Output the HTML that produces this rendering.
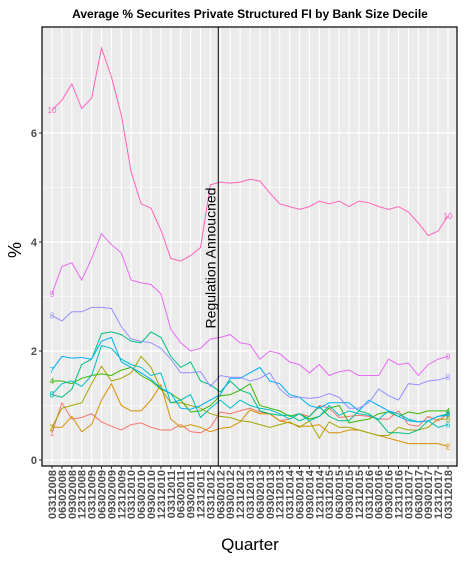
<!DOCTYPE html>
<html><head><meta charset="utf-8"><style>
body{margin:0;background:#fff}
svg{font-family:"Liberation Sans",sans-serif}
</style></head><body>
<svg id="c" width="465" height="558" xmlns="http://www.w3.org/2000/svg"></svg>
<script>
const quarters=["03312008","06302008","09302008","12312008","03312009","06302009","09302009","12312009","03312010","06302010","09302010","12312010","03312011","06302011","09302011","12312011","03312012","06302012","09302012","12312012","03312013","06302013","09302013","12312013","03312014","06302014","09302014","12312014","03312015","06302015","09302015","12312015","03312016","06302016","09302016","12312016","03312017","06302017","09302017","12312017","03312018"];
const yTicks=[0,2,4,6];
const s1=[0.5,1.05,0.75,0.78,0.85,0.7,0.62,0.55,0.65,0.68,0.6,0.55,0.55,0.65,0.52,0.5,0.6,0.88,0.85,0.9,0.95,0.88,0.85,0.72,0.75,0.85,0.8,1.0,0.95,0.78,0.8,0.82,0.8,0.75,0.75,0.9,0.65,0.62,0.8,0.72,0.85];
const s2=[0.6,0.6,0.8,0.52,0.65,1.1,1.4,1.0,0.9,0.9,1.1,1.38,0.75,0.6,0.65,0.6,0.52,0.58,0.6,0.7,0.92,0.85,0.85,0.72,0.68,0.62,0.62,0.65,0.5,0.5,0.55,0.55,0.5,0.45,0.4,0.35,0.3,0.3,0.3,0.3,0.25];
const s3=[0.6,0.95,1.0,1.05,1.4,1.72,1.45,1.5,1.6,1.9,1.7,1.3,1.05,1.05,1.0,0.95,0.85,0.8,0.78,0.72,0.7,0.65,0.6,0.65,0.7,0.6,0.72,0.4,0.7,0.6,0.6,0.55,0.5,0.45,0.45,0.6,0.55,0.55,0.6,0.75,0.75];
const s4=[1.45,1.45,1.4,1.5,1.55,1.58,1.55,1.65,1.7,1.55,1.45,1.3,1.22,1.1,0.88,0.9,1.0,1.18,1.2,1.28,1.4,1.0,0.95,0.9,0.8,0.85,0.75,0.8,0.95,1.0,0.68,0.72,0.75,0.85,0.88,0.8,0.88,0.85,0.9,0.9,0.9];
const s5=[1.2,1.15,1.3,1.75,1.85,2.32,2.35,2.3,2.18,2.15,2.35,2.25,1.9,1.7,1.8,1.45,1.38,1.25,1.45,1.28,1.22,0.9,0.85,0.82,0.82,0.72,0.8,0.98,0.8,0.72,0.72,0.9,0.85,0.72,0.5,0.5,0.48,0.55,0.72,0.8,0.85];
const s6=[1.2,1.4,1.45,1.35,1.55,2.1,2.05,1.85,1.75,1.7,1.55,1.6,1.05,1.1,1.2,0.78,0.95,1.1,0.95,1.1,1.0,0.95,0.92,0.85,0.75,0.85,0.72,0.8,1.0,0.82,0.9,0.85,0.82,0.75,0.9,0.85,0.75,0.7,0.72,0.6,0.65];
const s7=[1.65,1.9,1.87,1.88,1.85,2.18,2.25,1.8,1.7,1.6,1.48,1.32,1.22,0.95,0.93,1.0,1.1,1.2,1.5,1.5,1.6,1.7,1.45,1.4,1.2,1.15,1.0,0.95,1.05,1.05,1.05,0.9,1.1,1.0,0.9,0.8,0.72,0.7,0.72,0.8,0.82];
const s8=[2.65,2.55,2.72,2.72,2.8,2.8,2.78,2.45,2.22,2.18,2.15,2.05,1.85,1.6,1.6,1.62,1.35,1.55,1.52,1.52,1.45,1.5,1.6,1.3,1.15,1.15,1.13,1.15,1.22,1.15,0.95,0.95,1.05,1.3,1.18,1.1,1.4,1.38,1.45,1.47,1.52];
const s9=[3.05,3.55,3.62,3.3,3.7,4.15,3.95,3.8,3.3,3.25,3.22,3.05,2.4,2.15,2.0,2.05,2.22,2.25,2.3,2.15,2.12,1.85,2.0,1.95,1.8,1.75,1.6,1.75,1.55,1.62,1.65,1.55,1.55,1.55,1.85,1.75,1.78,1.55,1.75,1.85,1.9];
const s10=[6.42,6.6,6.9,6.45,6.64,7.56,7.03,6.33,5.28,4.7,4.62,4.22,3.7,3.65,3.75,3.9,5.05,5.1,5.08,5.1,5.15,5.12,4.9,4.7,4.65,4.6,4.65,4.75,4.7,4.75,4.65,4.75,4.72,4.65,4.6,4.65,4.55,4.35,4.12,4.2,4.48];
const series=[s1,s2,s3,s4,s5,s6,s7,s8,s9,s10];
const colors=["#F8766D","#D89000","#A3A500","#39B600","#00BF7D","#00BFC4","#00B0F6","#9590FF","#E76BF3","#FF62BC"];
const regIndex=17;

const NS="http://www.w3.org/2000/svg",svg=document.getElementById('c');
const L=42,R=457,T=27,B=466;
const x=i=>52+i*(448-52)/(quarters.length-1);
const y=v=>460-v*54.5;
function el(t,a,p){const e=document.createElementNS(NS,t);for(const k in a)e.setAttribute(k,a[k]);(p||svg).appendChild(e);return e;}
let e;
e=el('rect',{x:L,y:T,width:R-L,height:B-T,fill:'#EBEBEB'});


for(let v=1;v<8;v+=2){e=el('line',{x1:L,x2:R,y1:y(v),y2:y(v),stroke:'#fff','stroke-width':0.6});

}
yTicks.forEach(v=>{e=el('line',{x1:L,x2:R,y1:y(v),y2:y(v),stroke:'#fff','stroke-width':1.2});


e=el('line',{x1:L-3,x2:L,y1:y(v),y2:y(v),stroke:'#333'});


e=el('text',{x:L-5,y:y(v)+4,'text-anchor':'end','font-size':11,'font-weight':'bold',fill:'#4d4d4d'});e.textContent=v;

});
quarters.forEach((q,i)=>{e=el('line',{x1:x(i),x2:x(i),y1:T,y2:B,stroke:'#fff','stroke-width':1.1});


e=el('line',{x1:x(i),x2:x(i),y1:B,y2:B+3,stroke:'#333'});


e=el('text',{transform:`translate(${x(i)+4},${B+4}) rotate(-90)`,'text-anchor':'end','font-size':11,'font-weight':'bold',fill:'#4d4d4d'});e.textContent=q;

});
series.forEach((s,k)=>{const d=s.map((v,i)=>(i?'L':'M')+x(i).toFixed(1)+','+y(v).toFixed(1)).join('');
e=el('path',{d,fill:'none',stroke:colors[k],'stroke-width':1});


[0,s.length-1].forEach(i=>{e=el('text',{x:x(i),y:y(s[i])+3,'text-anchor':'middle','font-size':8,fill:colors[k]});e.textContent=k+1;

});});
e=el('line',{x1:x(regIndex)-2,x2:x(regIndex)-2,y1:T,y2:B,stroke:'#000','stroke-width':1});


e=el('text',{transform:`translate(${x(regIndex)-5},258) rotate(-90)`,'text-anchor':'middle','font-size':14,fill:'#000'});e.textContent='Regulation Annoucned';


e=el('rect',{x:L,y:T,width:R-L,height:B-T,fill:'none',stroke:'#000','stroke-width':1.2});


e=el('text',{x:250,y:18,'text-anchor':'middle','font-size':12,'font-weight':'bold',fill:'#000'});e.textContent='Average % Securites Private Structured FI by Bank Size Decile';


e=el('text',{transform:'translate(21,250) rotate(-90)','text-anchor':'middle','font-size':18,fill:'#000'});e.textContent='%';


e=el('text',{x:250,y:550,'text-anchor':'middle','font-size':17,fill:'#000'});e.textContent='Quarter';


</script>
</body></html>
